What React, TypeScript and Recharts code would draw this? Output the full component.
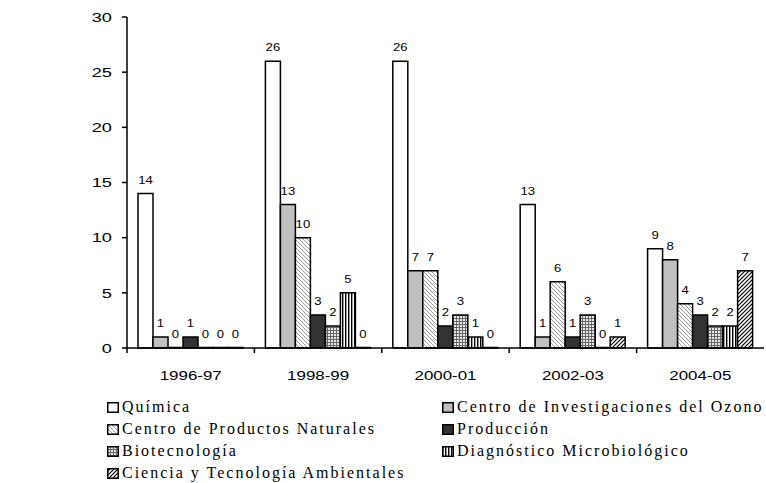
import { Bar, BarChart, LabelList, XAxis, YAxis } from "recharts";

// Publicaciones por departamento y bienio
const years = ["1996-97", "1998-99", "2000-01", "2002-03", "2004-05"];
const quimica = [14, 26, 26, 13, 9];
const ozono = [1, 13, 7, 1, 8];
const naturales = [0, 10, 7, 6, 4];
const produccion = [1, 3, 2, 1, 3];
const biotecnologia = [0, 2, 3, 3, 2];
const diagnostico = [0, 5, 1, 0, 2];
const ambientales = [0, 0, 0, 1, 7];
const yTicks = [0, 5, 10, 15, 20, 25, 30];

const series = [
  { key: "quimica", name: "Química", values: quimica, fill: "#ffffff" },
  { key: "ozono", name: "Centro de Investigaciones del Ozono", values: ozono, fill: "#c0c0c0" },
  { key: "naturales", name: "Centro de Productos Naturales", values: naturales, fill: "url(#pDiagLight)" },
  { key: "produccion", name: "Producción", values: produccion, fill: "#333333" },
  { key: "biotecnologia", name: "Biotecnología", values: biotecnologia, fill: "url(#pGrid)" },
  { key: "diagnostico", name: "Diagnóstico Microbiológico", values: diagnostico, fill: "url(#pVert)" },
  { key: "ambientales", name: "Ciencia y Tecnología Ambientales", values: ambientales, fill: "url(#pDiagDark)" },
];

const data = years.map((y, i) => {
  const row: Record<string, string | number> = { year: y };
  series.forEach((s) => {
    row[s.key] = s.values[i];
  });
  return row;
});

const AXIS_FONT = "'Liberation Sans', Arial, sans-serif";
const LEGEND_FONT = "'Liberation Serif', 'Times New Roman', serif";
const TICK_SIZE = 5;
const TICK_MARGIN = 18;
const PLOT_BOTTOM = 348;
// the original picture is stretched sideways, so its texts are wider
const STRETCH = 1.3;

function Patterns() {
  return (
    <svg width={0} height={0} style={{ position: "absolute" }}>
      <defs>
        <pattern id="pDiagLight" width={4} height={4} patternUnits="userSpaceOnUse">
          <rect width={4} height={4} fill="#fff" />
          <path d="M-1,-1 L5,5 M3,-1 L5,1 M-1,3 L1,5" stroke="#9a9a9a" strokeWidth={1} />
        </pattern>
        <pattern id="pDiagDark" width={4} height={4} patternUnits="userSpaceOnUse">
          <rect width={4} height={4} fill="#fff" />
          <path d="M-1,5 L5,-1 M-1,1 L1,-1 M3,5 L5,3" stroke="#000" strokeWidth={1.2} />
        </pattern>
        <pattern id="pVert" width={3} height={3} patternUnits="userSpaceOnUse">
          <rect width={3} height={3} fill="#fff" />
          <rect width={1.4} height={3} fill="#000" />
        </pattern>
        <pattern id="pGrid" width={3} height={3} patternUnits="userSpaceOnUse">
          <rect width={3} height={3} fill="#e8e8e8" />
          <rect width={3} height={1} fill="#666" />
          <rect width={1} height={3} fill="#666" />
        </pattern>
      </defs>
    </svg>
  );
}

function XTick(props: any) {
  const { x, y, payload } = props;
  const half = payload && payload.offset ? payload.offset : 63.7;
  const axisY = y - TICK_SIZE - TICK_MARGIN;
  return (
    <g>
      <line x1={x - half} x2={x - half} y1={axisY} y2={axisY + TICK_SIZE} stroke="#000" strokeWidth={1.5} />
      <text
        transform={`translate(${x},${y}) scale(${STRETCH},1)`}
        dy="0.71em"
        textAnchor="middle"
        fill="#000"
        fontSize={13}
        fontFamily={AXIS_FONT}
      >
        {payload.value}
      </text>
    </g>
  );
}

function YTick(props: any) {
  const { x, y, payload } = props;
  return (
    <text
      transform={`translate(${x},${y}) scale(1.35,1)`}
      dy="0.355em"
      textAnchor="end"
      fill="#000"
      fontSize={13.5}
      fontFamily={AXIS_FONT}
    >
      {payload.value}
    </text>
  );
}

function ValueLabel(props: any) {
  const { x, y, width, height, value } = props;
  if (x == null || width == null) return null;
  const top = value === 0 ? PLOT_BOTTOM : Math.min(y, y + (height || 0));
  return (
    <text
      transform={`translate(${x + width / 2},${top - 10}) scale(1.25,1)`}
      textAnchor="middle"
      fill="#000"
      fontSize={10.5}
      fontFamily={AXIS_FONT}
    >
      {value}
    </text>
  );
}

function LegendItem({ name, fill, x, y }: { name: string; fill: string; x: number; y: number }) {
  return (
    <div
      style={{
        position: "absolute",
        left: x,
        top: y - 11,
        height: 22,
        display: "flex",
        alignItems: "center",
        whiteSpace: "nowrap",
        fontFamily: LEGEND_FONT,
        fontSize: 16,
        letterSpacing: 2,
        color: "#000",
      }}
    >
      <svg width={12} height={11} style={{ marginRight: 3 }}>
        <rect x={0.75} y={0.75} width={10.5} height={9.5} fill={fill} stroke="#000" strokeWidth={1.5} />
      </svg>
      <span>{name}</span>
    </div>
  );
}

export default function App() {
  const rowY = [407, 429, 451, 473];
  return (
    <div style={{ position: "relative", width: 766, height: 483, background: "#fff" }}>
      <style>{`body{margin:0}`}</style>
      <Patterns />
      <BarChart
        width={766}
        height={395}
        data={data}
        margin={{ top: 17, right: 2, left: 0, bottom: 0 }}
        barSize={15}
        barGap={0}
      >
        <XAxis
          dataKey="year"
          height={47}
          axisLine={{ stroke: "#000", strokeWidth: 1.5 }}
          tickLine={false}
          tickSize={TICK_SIZE}
          tickMargin={TICK_MARGIN}
          tick={<XTick />}
          interval={0}
        />
        <YAxis
          width={127}
          domain={[0, 30]}
          ticks={yTicks}
          interval={0}
          axisLine={{ stroke: "#000", strokeWidth: 1.5 }}
          tickLine={{ stroke: "#000", strokeWidth: 1.5 }}
          tickSize={TICK_SIZE}
          tickMargin={10}
          tick={<YTick />}
        />
        {series.map((s) => (
          <Bar
            key={s.key}
            dataKey={s.key}
            name={s.name}
            fill={s.fill}
            stroke="#000"
            strokeWidth={1.5}
            minPointSize={0.5}
            isAnimationActive={false}
          >
            <LabelList dataKey={s.key} content={<ValueLabel />} />
          </Bar>
        ))}
      </BarChart>
      {series.map((s, i) => (
        <LegendItem
          key={s.key}
          name={s.name}
          fill={s.fill}
          x={i % 2 === 0 ? 107 : 442}
          y={rowY[Math.floor(i / 2)]}
        />
      ))}
    </div>
  );
}
